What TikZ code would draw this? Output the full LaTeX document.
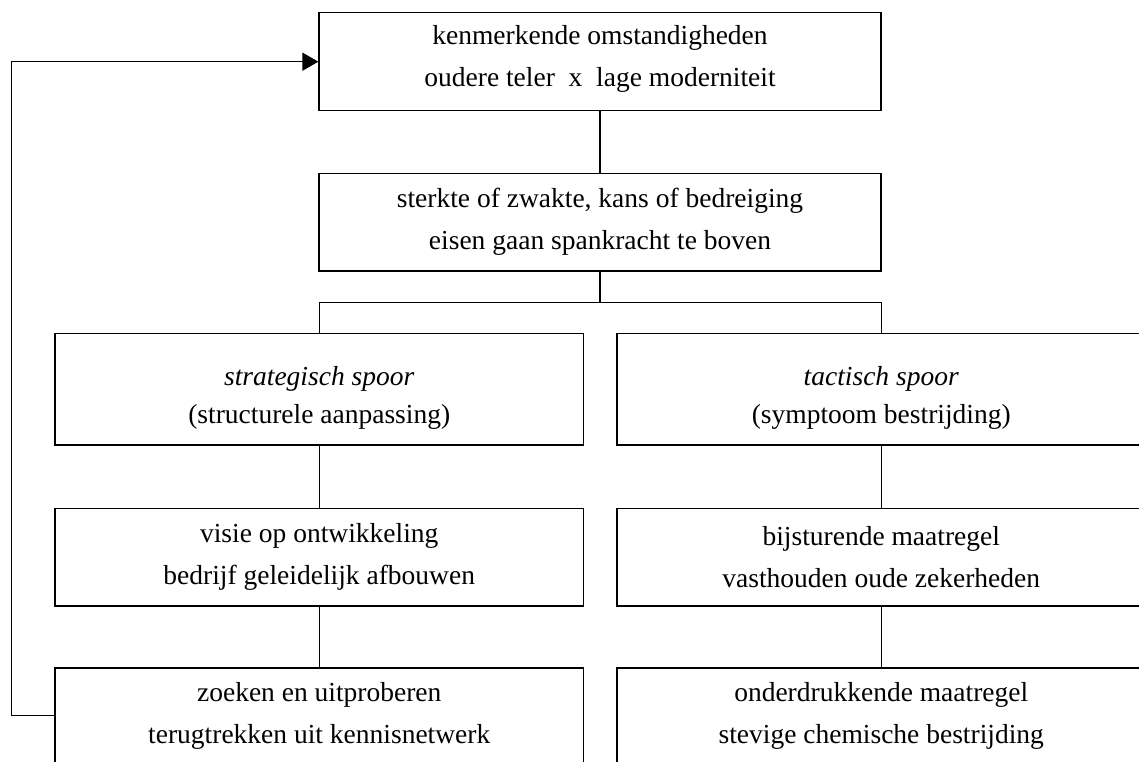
\documentclass[tikz,border=0pt]{standalone}
\usepackage{fontspec}
\setmainfont{Liberation Serif}
\usetikzlibrary{arrows.meta}
\tikzset{
  box/.style={draw, line width=1.3pt, rectangle, inner sep=0pt, align=center,
    font=\fontsize{27.5}{42}\selectfont},
  wide/.style={box, minimum width=562pt},
  half/.style={box, minimum width=528.5pt},
  txt/.style={inner sep=0pt, align=center, font=\fontsize{27.5}{38}\selectfont},
  conn/.style={line width=1.3pt},
  fbarrow/.style={conn, -{Triangle[length=16pt,width=18pt]}}
}
\begin{document}
\begin{tikzpicture}[x=1pt,y=-1pt]
\clip (0,0) rectangle (1139,762);
\fill[white] (0,0) rectangle (1139,762);
\node[wide, minimum height=98pt] (top) at (600,61.7) {};
\node[txt, font=\fontsize{27.5}{42}\selectfont] (topT) at ([yshift=2.5pt]top.center)
  {kenmerkende omstandigheden\\oudere teler\ \ x\ \ lage moderniteit};
\node[wide, minimum height=97.7pt] (second) at (600,222.2)
  {sterkte of zwakte, kans of bedreiging\\eisen gaan spankracht te boven};
\node[half, minimum height=111.7pt] (strat) at (319.25,389.2) {};
\node[txt] (stratT) at ([yshift=-9pt]strat.center)
  {\textit{strategisch spoor}\\(structurele aanpassing)};
\node[half, minimum height=111.7pt] (tact) at (881.25,389.2) {};
\node[txt] (tactT) at ([yshift=-9pt]tact.center)
  {\textit{tactisch spoor}\\(symptoom bestrijding)};
\node[half, minimum height=97.7pt] (visie) at (319.25,557.2)
  {visie op ontwikkeling\\bedrijf geleidelijk afbouwen};
\node[half, minimum height=97.7pt] (bij) at (881.25,557.2)
  {bijsturende maatregel\\vasthouden oude zekerheden};
\node[half, minimum height=95pt] (zoek) at (319.25,715.5)
  {zoeken en uitproberen\\terugtrekken uit kennisnetwerk};
\node[half, minimum height=95pt] (onder) at (881.25,715.5)
  {onderdrukkende maatregel\\stevige chemische bestrijding};
\coordinate (fork) at (600,302.3);
\coordinate (fb) at (11.5,0);
\draw[conn] (top.south) -- (second.north);
\draw[conn] (second.south) -- (fork);
\draw[conn] (strat.north) |- (fork) -| (tact.north);
\draw[conn] (strat.south) -- (visie.north);
\draw[conn] (visie.south) -- (zoek.north);
\draw[conn] (tact.south) -- (bij.north);
\draw[conn] (bij.south) -- (onder.north);
\draw[fbarrow] (zoek.west) -- (zoek.west -| fb) |- (top.west);
\end{tikzpicture}
\end{document}
